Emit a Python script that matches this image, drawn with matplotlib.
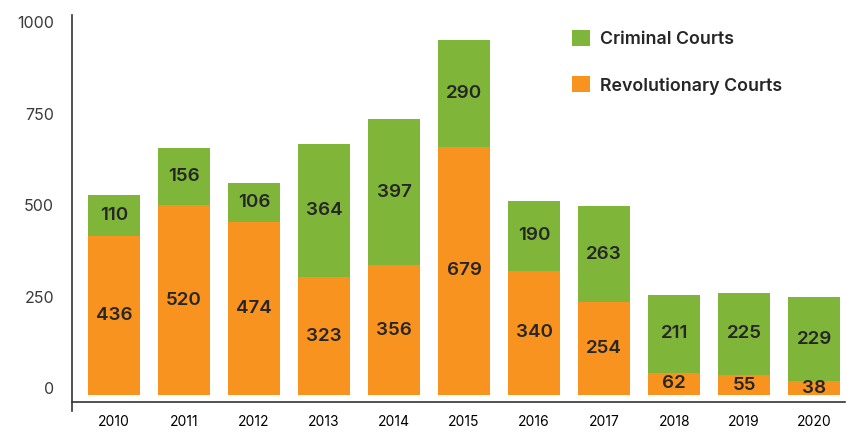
import matplotlib

matplotlib.use("Agg")
import matplotlib.pyplot as plt
import matplotlib.transforms as mtransforms
import numpy as np

years = ["2010", "2011", "2012", "2013", "2014", "2015", "2016", "2017", "2018", "2019", "2020"]
revolutionary = [436, 520, 474, 323, 356, 679, 340, 254, 62, 55, 38]
criminal = [110, 156, 106, 364, 397, 290, 190, 263, 211, 225, 229]
yticks = [0, 250, 500, 750, 1000]

green = "#7FB539"
orange = "#F7931E"
text_col = "#262626"

plt.rcParams["font.family"] = ["Inter", "DejaVu Sans"]

W, H = 852, 433
fig = plt.figure(figsize=(W / 100, H / 100), dpi=100)
# axes in pixel coords: left 72, right 845, top 15, bottom 411
ax = fig.add_axes([72 / W, (H - 411) / H, (845 - 72) / W, (411 - 15) / H])

x = np.arange(len(years))
ax.bar(x, revolutionary, width=0.74, color=orange, label="Revolutionary Courts")
ax.bar(x, criminal, width=0.74, bottom=revolutionary, color=green, label="Criminal Courts")

for i in range(len(years)):
    r, c = revolutionary[i], criminal[i]
    ax.text(x[i], r / 2, str(r), ha="center", va="center", fontsize=13.5,
            fontweight="semibold", color=text_col)
    ax.text(x[i], r + c / 2, str(c), ha="center", va="center", fontsize=13.5,
            fontweight="semibold", color=text_col)

ax.set_xlim(-0.6, 10.44)
ax.set_ylim(-43, 1038)
ax.set_xticks(x)
ax.set_xticklabels(years, fontsize=11.5, color="#3a3a3a")
ax.set_yticks(yticks)
ax.set_yticklabels([str(v) for v in yticks], fontsize=11.5, color="#3a3a3a")
ax.tick_params(axis="both", length=0)
ax.tick_params(axis="y", pad=13)
ax.tick_params(axis="x", pad=9)

# y labels sit a little above their value
shift = mtransforms.ScaledTranslation(0, 7 / 100, fig.dpi_scale_trans)
for lbl in ax.get_yticklabels():
    lbl.set_transform(lbl.get_transform() + shift)

ax.spines["top"].set_visible(False)
ax.spines["right"].set_visible(False)
ax.spines["bottom"].set_position(("data", -19))
for s in ["left", "bottom"]:
    ax.spines[s].set_color("#333333")
    ax.spines[s].set_linewidth(1.2)

handles, labels = ax.get_legend_handles_labels()
leg = fig.legend(handles[::-1], labels[::-1], loc="upper left",
                 bbox_to_anchor=(572 / W, 1 - 30 / H), frameon=False,
                 borderpad=0, borderaxespad=0, handlelength=1, handleheight=1,
                 handletextpad=0.55, labelspacing=1.6,
                 prop={"size": 12.8, "weight": "semibold"})
for t in leg.get_texts():
    t.set_color(text_col)

fig.savefig("out.png", dpi=100)
